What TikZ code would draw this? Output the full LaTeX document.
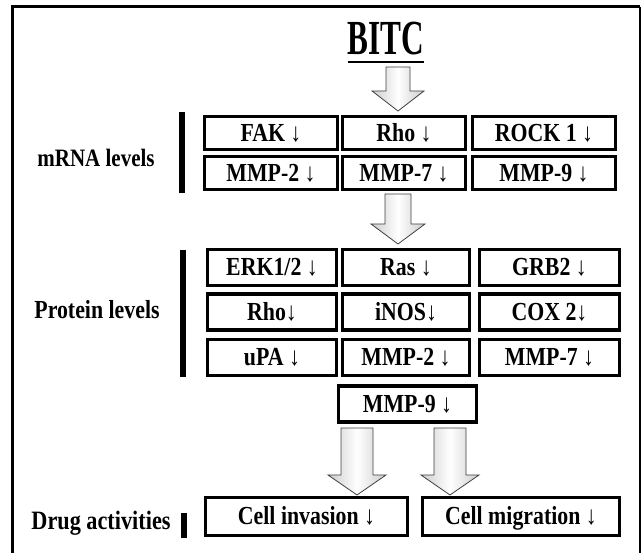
\documentclass[tikz,border=0pt]{standalone}
\usepackage{fontspec}
\setmainfont{Liberation Serif}[FakeStretch=0.84]
\usepackage{graphicx}
\usetikzlibrary{calc}
\tikzset{
  box/.style={draw, line width=3.5pt, inner sep=0pt, minimum height=33pt,
    text height=17pt, text depth=0pt,
    font=\fontsize{26}{28}\selectfont\bfseries},
  pbox/.style={box, minimum height=36pt},
  lvl/.style={inner sep=0pt, text height=17pt, text depth=0pt,
    font=\fontsize{25}{28}\selectfont\bfseries},
  lvlbar/.style={line width=6pt},
  blockarrow/.style={draw=black!75, line width=0.8pt, left color=gray!40,
    right color=gray!40, middle color=white},
}
\newcommand\blockarr[5]{% start, tip, half shaft, half head, head length
  \path[blockarrow] let \p1=(#1), \p2=(#2) in
    (\x2-#3pt,\y1) -- (\x2+#3pt,\y1) -- (\x2+#3pt,\y2+#5pt) -- (\x2+#4pt,\y2+#5pt)
    -- (\x2,\y2) -- (\x2-#4pt,\y2+#5pt) -- (\x2-#3pt,\y2+#5pt) -- cycle;}
\begin{document}
\begin{tikzpicture}[x=1pt,y=-1pt]
\useasboundingbox (0,0) rectangle (641,553);
% frame
\draw[line width=3pt] (12,553) -- (12,7) -- (640,7);
\draw[line width=1.2pt] (640,7) -- (640,553);
% title
\node[anchor=base, inner sep=0pt, font=\fontsize{49}{52}\selectfont\bfseries]
  (bitc) at (386,55) {\scalebox{0.76}[1]{BITC}};
\draw[line width=2.5pt] ([yshift=-7pt]bitc.base west) -- ([yshift=-7pt]bitc.base east);
% mRNA level
\node[lvl] (mrna) at (96,158) {mRNA levels};
\coordinate (mbt) at (182,112); \coordinate (mbb) at (182,193);
\draw[lvlbar] (mbt) -- (mbb);
\node[box, minimum width=133pt] (m11) at (271,133) {FAK ↓};
\node[box, minimum width=123pt] (m12) at (404,133) {Rho ↓};
\node[box, minimum width=143pt] (m13) at (544,133) {ROCK 1 ↓};
\node[box, minimum width=133pt] (m21) at (271,173) {MMP-2 ↓};
\node[box, minimum width=123pt] (m22) at (404,173) {MMP-7 ↓};
\node[box, minimum width=143pt] (m23) at (544,173) {MMP-9 ↓};
% protein level
\node[lvl, font=\fontsize{26}{28}\selectfont\bfseries] (prot) at (97,310) {Protein levels};
\coordinate (pbt) at (183,250); \coordinate (pbb) at (183,377);
\draw[lvlbar] (pbt) -- (pbb);
\node[pbox, minimum width=129pt] (p11) at (272,267.5) {ERK1/2 ↓};
\node[pbox, minimum width=127pt] (p12) at (406,267.5) {Ras ↓};
\node[pbox, minimum width=140pt] (p13) at (549.5,267.5) {GRB2 ↓};
\node[pbox, minimum width=129pt] (p21) at (272,312) {Rho↓};
\node[pbox, minimum width=127pt] (p22) at (406,312) {iNOS↓};
\node[pbox, minimum width=140pt] (p23) at (549.5,312) {COX 2↓};
\node[pbox, minimum width=129pt] (p31) at (272,357.5) {uPA ↓};
\node[pbox, minimum width=127pt] (p32) at (406,357.5) {MMP-2 ↓};
\node[pbox, minimum width=140pt] (p33) at (549.5,357.5) {MMP-7 ↓};
\node[pbox, minimum width=138pt] (p4) at (407.5,404) {MMP-9 ↓};
% drug activities
\node[lvl, font=\fontsize{26.5}{28}\selectfont\bfseries] (drug) at (101,521) {Drug activities};
\coordinate (dbt) at (184,513); \coordinate (dbb) at (184,538);
\draw[lvlbar] (dbt) -- (dbb);
\node[box, minimum height=38pt, minimum width=202pt] (inv) at (306.5,516.5) {Cell invasion ↓};
\node[box, minimum height=38pt, minimum width=197pt] (mig) at (521,516.5) {Cell migration ↓};
% block arrows
\coordinate (a1s) at (398,67);  \coordinate (a1t) at (398,111);
\coordinate (a2s) at (398,194); \coordinate (a2t) at (398,244);
\coordinate (a3s) at (357,428); \coordinate (a3t) at (357,495);
\coordinate (a4s) at (450,428); \coordinate (a4t) at (450,495);
\blockarr{a1s}{a1t}{12}{26}{20}
\blockarr{a2s}{a2t}{13}{27}{20}
\blockarr{a3s}{a3t}{16}{29}{20}
\blockarr{a4s}{a4t}{16}{29}{20}
\end{tikzpicture}
\end{document}
